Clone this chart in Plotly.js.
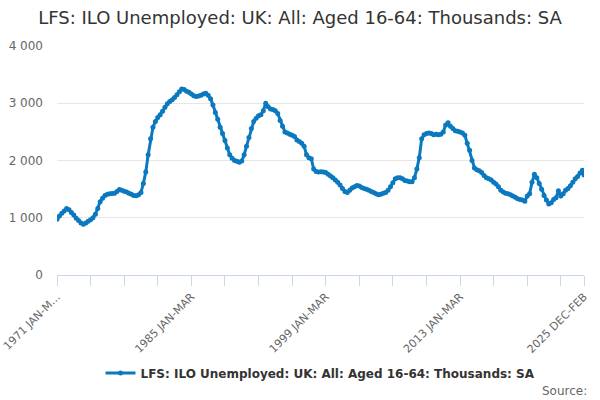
<!DOCTYPE html>
<html>
<head>
<meta charset="utf-8">
<script src="https://cdn.plot.ly/plotly-3.0.1.min.js"></script>
<style>html,body{margin:0;padding:0;background:#fff;}#chart{width:600px;height:400px;}</style>
</head>
<body>
<div id="chart"></div>
<script>
// Quarterly readings (JAN-MAR, APR-JUN, JUL-SEP, OCT-DEC), thousands
var startYear = 1971;
var quarterNames = ["JAN-MAR", "APR-JUN", "JUL-SEP", "OCT-DEC"];
var values1971_1980 = [
  975, 1030, 1080, 1120,
  1160, 1140, 1090, 1050,
  990, 950, 910, 885,
  910, 940, 965, 1000,
  1060, 1160, 1280, 1340,
  1390, 1410, 1420, 1425,
  1430, 1460, 1495, 1480,
  1465, 1450, 1430, 1410,
  1390, 1385, 1400, 1440,
  1600, 1800, 2100, 2380
];
var values1981_1990 = [
  2580, 2680, 2750, 2800,
  2860, 2930, 2990, 3030,
  3060, 3100, 3150, 3200,
  3250, 3240, 3210, 3190,
  3160, 3130, 3120, 3125,
  3140, 3160, 3175, 3140,
  3080, 2970, 2840, 2720,
  2580, 2470, 2350, 2220,
  2100, 2040, 2000, 1985,
  1970, 1990, 2100, 2250
];
var values1991_2000 = [
  2400, 2560, 2680, 2740,
  2780, 2800, 2870, 3000,
  2940, 2900, 2890, 2870,
  2820, 2700, 2600, 2500,
  2480, 2460, 2440, 2420,
  2360, 2330, 2300, 2250,
  2100, 2050, 2030, 1850,
  1810, 1800, 1805, 1800,
  1790, 1760, 1730, 1700,
  1660, 1620, 1570, 1510
];
var values2001_2010 = [
  1460, 1440, 1480, 1520,
  1540, 1565, 1555, 1530,
  1510, 1500, 1480, 1460,
  1440, 1420, 1400, 1410,
  1430, 1440, 1480, 1540,
  1610, 1680, 1700, 1700,
  1680, 1650, 1640, 1630,
  1630, 1700, 1850, 2050,
  2380, 2450, 2470, 2480,
  2470, 2450, 2460, 2450
];
var values2011_2020 = [
  2460, 2500, 2620, 2660,
  2600, 2560, 2520, 2510,
  2500, 2480, 2440, 2300,
  2180, 2000, 1870, 1840,
  1820, 1790, 1740, 1700,
  1680, 1660, 1620, 1590,
  1540, 1480, 1450, 1430,
  1420, 1400, 1380, 1360,
  1330, 1320, 1310, 1290,
  1380, 1420, 1620, 1760
];
var values2021_2025 = [
  1700, 1600, 1500, 1390,
  1310, 1240, 1260, 1320,
  1350, 1470, 1380, 1420,
  1480, 1510, 1560, 1620,
  1680, 1720, 1780, 1830
];
var lastLabel = "2025 DEC-FEB";
var lastValue = 1745;
var seriesName = "LFS: ILO Unemployed: UK: All: Aged 16-64: Thousands: SA";
var axisLabels = ["1971 JAN-M\u2026", "1985 JAN-MAR", "1999 JAN-MAR", "2013 JAN-MAR", "2025 DEC-FEB"];

var values = [].concat(values1971_1980, values1981_1990, values1991_2000, values2001_2010, values2011_2020, values2021_2025);
var periods = [], xs = [];
for (var i = 0; i < values.length; i++) {
  periods.push((startYear + Math.floor(i / 4)) + " " + quarterNames[i % 4]);
  xs.push(i * 3);
}
periods.push(lastLabel); values.push(lastValue);
var lastIdx = (2025 - startYear) * 12 + 11;
xs.push(lastIdx);

var tickvals = [], ticktext = [];
for (var t = 0; t <= 630; t += 42) { tickvals.push(t); ticktext.push(""); }
tickvals.push(lastIdx); ticktext.push("");
ticktext[0] = axisLabels[0];
ticktext[4] = axisLabels[1];
ticktext[8] = axisLabels[2];
ticktext[12] = axisLabels[3];
ticktext[ticktext.length - 1] = axisLabels[4];

var trace = {
  x: xs, y: values, text: periods, type: "scatter", mode: "lines+markers",
  name: seriesName,
  line: {color: "#0a79bf", width: 3},
  marker: {color: "#0a79bf", size: 5},
  hovertemplate: "%{text}: %{y}<extra></extra>"
};

var layout = {
  width: 600, height: 400,
  paper_bgcolor: "#fff", plot_bgcolor: "#fff",
  separators: ". ",
  font: {family: "DejaVu Sans, sans-serif", color: "#666"},
  title: {text: "LFS: ILO Unemployed: UK: All: Aged 16-64: Thousands: SA",
          font: {size: 18, color: "#333", family: "DejaVu Sans, sans-serif"},
          x: 0.5, xanchor: "center", y: 0.955, yanchor: "middle"},
  margin: {l: 57, r: 16, t: 46, b: 119},
  showlegend: true,
  legend: {orientation: "h", x: 0.5, xanchor: "center", y: -0.428, yanchor: "middle",
           font: {size: 12, color: "#333", weight: "bold"}, itemwidth: 30},
  xaxis: {range: [0, lastIdx], tickmode: "array", tickvals: tickvals, ticktext: ticktext,
          tickangle: -45, ticks: "outside", ticklen: 10, tickcolor: "#ccd6eb",
          showline: true, linecolor: "#ccd6eb", linewidth: 1, showgrid: false, zeroline: false,
          tickfont: {size: 11, color: "#666"}},
  yaxis: {range: [0, 4000], dtick: 1000, tickformat: ",d", showgrid: true, gridcolor: "#e6e6e6",
          zeroline: false, showline: false, ticks: "", ticklabelstandoff: 13,
          tickfont: {size: 12, color: "#666"}},
  annotations: [{text: "Source:", xref: "paper", yref: "paper", x: 1.0095, xanchor: "right",
                 y: -0.505, yanchor: "middle", showarrow: false, font: {size: 12, color: "#666"}}]
};
Plotly.newPlot("chart", [trace], layout, {displayModeBar: false, staticPlot: true});
</script>
</body>
</html>
